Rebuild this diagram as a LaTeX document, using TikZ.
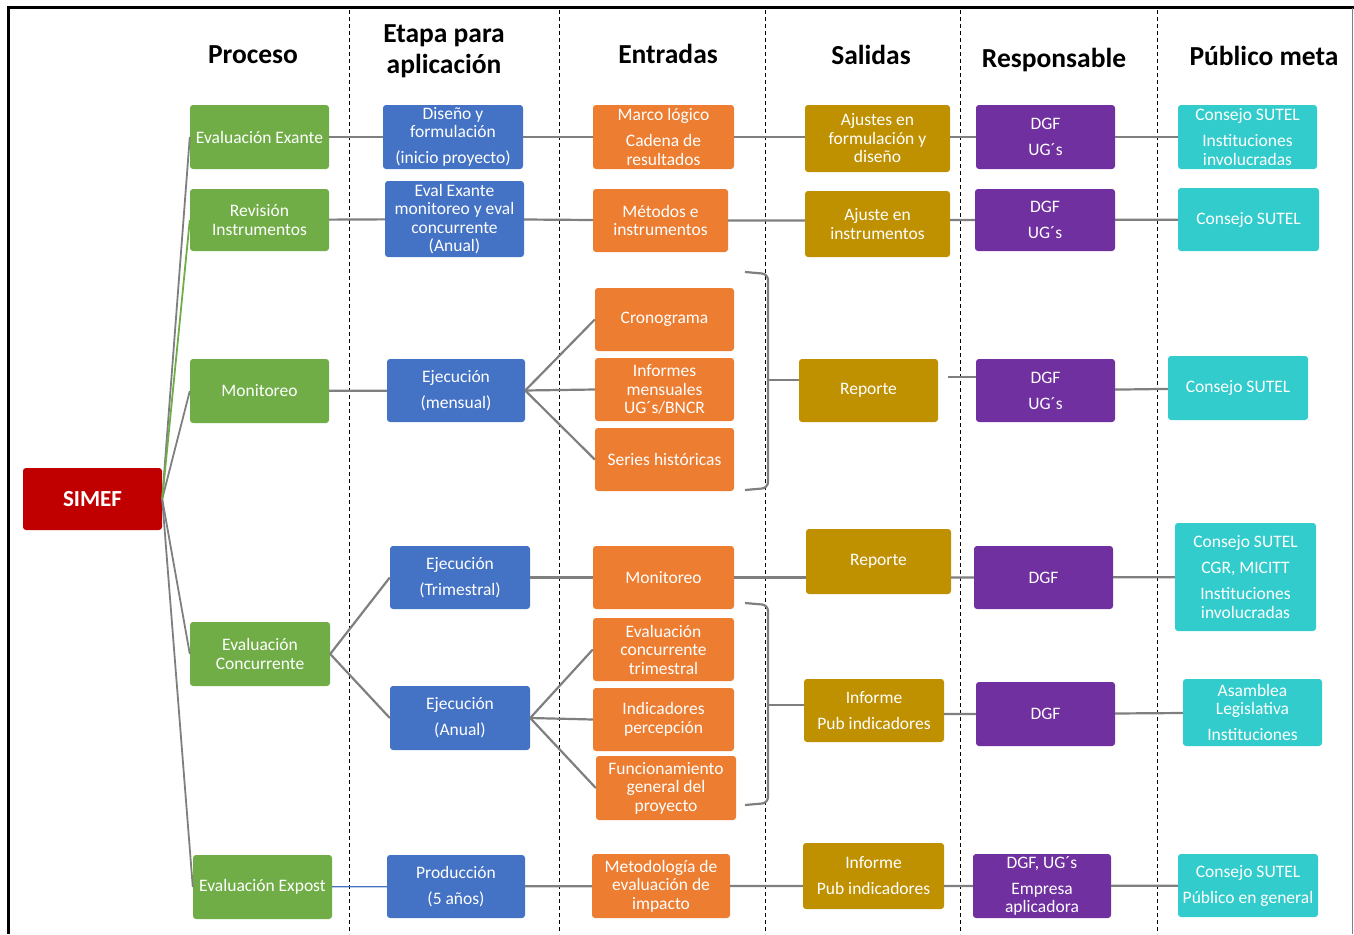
\documentclass[tikz,border=0pt]{standalone}
\usepackage{fontspec}
\setmainfont{Carlito}
\definecolor{verde}{HTML}{70AD47}
\definecolor{azul}{HTML}{4472C4}
\definecolor{naranja}{HTML}{ED7D31}
\definecolor{oro}{HTML}{BF9000}
\definecolor{morado}{HTML}{7030A0}
\definecolor{turquesa}{HTML}{33CCCC}
\definecolor{rojo}{HTML}{C00000}
\definecolor{gris}{HTML}{7F7F7F}
\tikzset{
  box/.style={rounded corners=3pt, text=white, align=center, inner sep=1pt,
    font=\fontsize{17.5}{18.5}\selectfont},
  sz/.style 2 args={minimum width=#1pt, minimum height=#2pt},
  proc/.style={box, fill=verde},
  etapa/.style={box, fill=azul},
  entrada/.style={box, fill=naranja},
  salida/.style={box, fill=oro},
  resp/.style={box, fill=morado},
  meta/.style={box, fill=turquesa},
  conn/.style={draw=gris, line width=2.2pt},
  hdr/.style={font=\bfseries\fontsize{27.5}{31}\selectfont, align=center},
}
\begin{document}
\begin{tikzpicture}[x=1pt, y=-1pt]
  \useasboundingbox (0,0) rectangle (1354,934);
  % marco y columnas
  \draw [line width=3pt] (8,934) -- (8,8) -- (1354,8);
  \draw [gris, line width=0.8pt] (1352,8) -- (1352,934);
  \foreach \x in {349,559,765,960,1157}
    \draw [dash pattern=on 4pt off 3pt, line width=0.9pt] (\x,10) -- (\x,934);
  % encabezados
  \node [hdr] (hProc) at (253,55) {Proceso};
  \node [hdr] (hEtapa) at (444,51) {Etapa para\\aplicación};
  \node [hdr] (hEntr) at (668,54) {Entradas};
  \node [hdr] (hSal) at (871,55) {Salidas};
  \node [hdr] (hResp) at (1054,60) {Responsable};
  \node [hdr] (hMeta) at (1264,56) {Público meta};
  % raiz
  \node [box, fill=rojo, sz={139}{62}, font=\bfseries\fontsize{23}{26}\selectfont] (simef) at (92.5,499) {SIMEF};
  % proceso
  \node [proc, sz={139}{64}] (pExante) at (259.5,137) {Evaluación Exante};
  \node [proc, sz={139}{62}] (pRevision) at (259.5,220) {Revisión\\Instrumentos};
  \node [proc, sz={139}{64}] (pMonit) at (259.5,391) {Monitoreo};
  \node [proc, sz={140}{64}] (pConc) at (260,654) {Evaluación\\Concurrente};
  \node [proc, sz={139}{64}] (pExpost) at (262.5,887) {Evaluación Expost};
  % etapa
  \node [etapa, sz={140}{64}] (eDiseno) at (453,137) {Diseño y\\formulación\\[7.5pt](inicio proyecto)};
  \node [etapa, sz={139}{76}] (eEval) at (454.5,219) {Eval Exante\\monitoreo y eval\\concurrente\\(Anual)};
  \node [etapa, sz={138}{63}] (eMens) at (456,390.5) {Ejecución\\[7.5pt](mensual)};
  \node [etapa, sz={140}{63}] (eTrim) at (460,577.5) {Ejecución\\[7.5pt](Trimestral)};
  \node [etapa, sz={140}{64}] (eAnual) at (460,718) {Ejecución\\[7.5pt](Anual)};
  \node [etapa, sz={138}{63}] (eProd) at (456,886.5) {Producción\\[7.5pt](5 años)};
  % entradas
  \node [entrada, sz={141}{64}] (nMarco) at (663.5,137) {Marco lógico\\[7.5pt]Cadena de\\resultados};
  \node [entrada, sz={135}{63}] (nMetodos) at (660.5,220.5) {Métodos e\\instrumentos};
  \node [entrada, sz={139}{63}] (nCrono) at (664.5,319.5) {Cronograma};
  \node [entrada, sz={139}{63}] (nInf) at (664.5,389.5) {Informes\\mensuales\\UG´s/BNCR};
  \node [entrada, sz={139}{63}] (nSeries) at (664.5,459.5) {Series históricas};
  \node [entrada, sz={141}{63}] (nMonit) at (663.5,577.5) {Monitoreo};
  \node [entrada, sz={141}{63}] (nEvalTrim) at (663.5,649.5) {Evaluación\\concurrente\\trimestral};
  \node [entrada, sz={141}{63}] (nIndic) at (663.5,719.5) {Indicadores\\percepción};
  \node [entrada, sz={140}{64}] (nFunc) at (666,788) {Funcionamiento\\general del\\proyecto};
  \node [entrada, sz={138}{64}] (nMetod) at (661,886) {Metodología de\\evaluación de\\impacto};
  % salidas
  \node [salida, sz={145}{67}] (sAjustes) at (877.5,138.5) {Ajustes en\\formulación y\\diseño};
  \node [salida, sz={145}{66}] (sAjuste) at (877.5,224) {Ajuste en\\instrumentos};
  \node [salida, sz={139}{63}] (sRepA) at (868.5,390.5) {Reporte};
  \node [salida, sz={145}{65}] (sRepB) at (878.5,561.5) {Reporte};
  \node [salida, sz={140}{63}] (sInfA) at (874,710.5) {Informe\\[7.5pt]Pub indicadores};
  \node [salida, sz={141}{66}] (sInfB) at (873.5,876) {Informe\\[7.5pt]Pub indicadores};
  % responsable
  \node [resp, sz={139}{64}] (rA) at (1045.5,137) {DGF\\[7.5pt]UG´s};
  \node [resp, sz={140}{62}] (rB) at (1045,220) {DGF\\[7.5pt]UG´s};
  \node [resp, sz={139}{63}] (rC) at (1045.5,390.5) {DGF\\[7.5pt]UG´s};
  \node [resp, sz={139}{63}] (rD) at (1043.5,577.5) {DGF};
  \node [resp, sz={139}{64}] (rE) at (1045.5,714) {DGF};
  \node [resp, sz={138}{64}] (rF) at (1042,886) {DGF, UG´s\\[7.5pt]Empresa\\aplicadora};
  % publico meta
  \node [meta, sz={139}{64}] (uA) at (1247.5,137) {Consejo SUTEL\\[7.5pt]Instituciones\\involucradas};
  \node [meta, sz={141}{63}] (uB) at (1248.5,219.5) {Consejo SUTEL};
  \node [meta, sz={140}{64}] (uC) at (1238,388) {Consejo SUTEL};
  \node [meta, sz={141}{108}] (uD) at (1245.5,577) {Consejo SUTEL\\[7.5pt]CGR, MICITT\\[7.5pt]Instituciones\\involucradas};
  \node [meta, sz={139}{67}] (uE) at (1252.5,712.5) {Asamblea\\Legislativa\\[7.5pt]Instituciones};
  \node [meta, sz={140}{63}] (uF) at (1248,885.5) {Consejo SUTEL\\[7.5pt]Público en general};
  % arbol SIMEF
  \foreach \p in {pExante,pMonit,pConc,pExpost}
    \draw [conn, line width=1.8pt] (simef.east) -- (\p.west);
  \draw [draw=verde, line width=1.8pt] (simef.east) -- (pRevision.west);
  % filas
  \draw [conn] (pExante) -- (eDiseno) -- (nMarco) -- (sAjustes.west |- nMarco);
  \draw [conn] (sAjustes.east |- rA) -- (rA) -- (uA);
  \draw [conn] (pRevision) -- (eEval) -- (nMetodos) -- (sAjuste.west |- nMetodos);
  \draw [conn] (sAjuste.east |- rB) -- (rB) -- (uB);
  \draw [conn] (pMonit) -- (eMens);
  \foreach \n in {nCrono,nInf,nSeries}
    \draw [conn] (eMens.east) -- (\n.west);
  \coordinate (repSal) at (948,377);
  \draw [conn] (repSal) -- (rC.west |- repSal);
  \draw [conn] (rC) -- (uC);
  \foreach \e in {eTrim,eAnual}
    \draw [conn] (pConc.east) -- (\e.west);
  \draw [conn] (eTrim) -- (nMonit) -- (sRepB.west |- nMonit) ;
  \draw [conn] (sRepB.east |- rD) -- (rD) -- (uD);
  \foreach \n in {nEvalTrim,nIndic,nFunc}
    \draw [conn] (eAnual.east) -- (\n.west);
  \draw [conn] (sInfA.east |- rE) -- (rE) -- (uE);
  \draw [draw=azul, line width=1.2pt] (pExpost) -- (eProd);
  \draw [conn] (eProd) -- (nMetod) -- (sInfB.west |- nMetod);
  \draw [conn] (sInfB.east |- rF) -- (rF) -- (uF);
  % llaves
  \draw [conn, rounded corners=6pt] (745,272) -- (768,274) -- (768,488) -- (745,490);
  \coordinate (llaveA) at (768,380);
  \draw [conn] (llaveA) -- (sRepA.west |- llaveA);
  \draw [conn, rounded corners=6pt] (745,603) -- (768,605) -- (768,803) -- (745,805);
  \coordinate (llaveB) at (768,705);
  \draw [conn] (llaveB) -- (sInfA.west |- llaveB);
\end{tikzpicture}
\end{document}
